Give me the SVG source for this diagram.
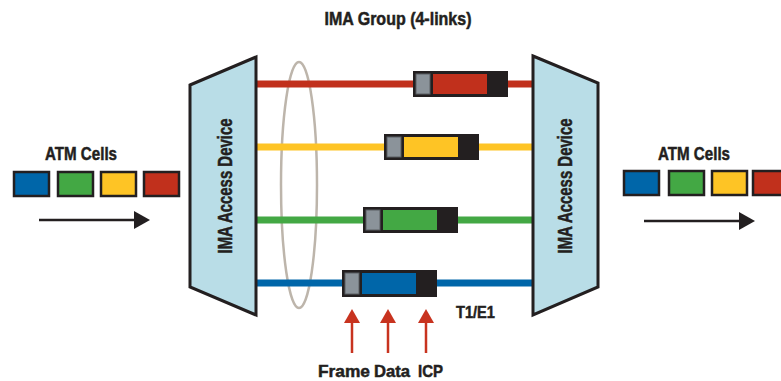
<svg xmlns="http://www.w3.org/2000/svg" width="781" height="381" viewBox="0 0 781 381">
  <style>
    .lbl { font-family: "Liberation Sans", Arial, sans-serif; font-weight: bold; fill: #231f20; stroke: #231f20; stroke-width: 0.5; }
    .dev { fill: #b9dde7; stroke: #231f20; stroke-width: 3; stroke-linejoin: miter; }
    .cell { stroke: #231f20; stroke-width: 2.5; }
    .link { stroke-width: 7; fill: none; }
    .blue { fill: #0066a9; }
    .green { fill: #43a844; }
    .yellow { fill: #fec425; }
    .red { fill: #c1301c; }
    .frm { fill: #231f20; }
    .hdr { fill: #8b939a; stroke: #5a5f63; stroke-width: 1; }
    .flow { stroke: #231f20; stroke-width: 2.5; }
    .ptr { stroke: #c8331f; stroke-width: 2.5; }
  </style>
  <defs>
    <marker id="flowHead" viewBox="0 0 16 18" refX="1" refY="9" markerWidth="16" markerHeight="18" markerUnits="userSpaceOnUse" orient="auto">
      <path d="M0,0 L16,9 L0,18 Z" fill="#231f20"/>
    </marker>
    <marker id="ptrHead" viewBox="0 0 16 16" refX="1" refY="8" markerWidth="16" markerHeight="16" markerUnits="userSpaceOnUse" orient="auto">
      <path d="M0,0 L14,8 L0,16 Z" fill="#c8331f"/>
    </marker>
  </defs>

  <text class="lbl" x="398" y="25" font-size="18" text-anchor="middle" textLength="147" lengthAdjust="spacingAndGlyphs">IMA Group (4-links)</text>

  <!-- bundle outline around the four links -->
  <ellipse id="bundle" cx="299" cy="185" rx="18" ry="123" fill="none" stroke="#bdb5ab" stroke-width="2.5"/>

  <!-- connectors: the four T1/E1 links and flow arrows -->
  <g id="connectors">
    <line class="link" x1="256" y1="84" x2="533" y2="84" stroke="#c1301c"/>
    <line class="link" x1="256" y1="147" x2="533" y2="147" stroke="#fec425"/>
    <line class="link" x1="256" y1="220" x2="533" y2="220" stroke="#43a844"/>
    <line class="link" x1="256" y1="283" x2="533" y2="283" stroke="#0066a9"/>
    <line class="flow" x1="39" y1="220" x2="135" y2="220" marker-end="url(#flowHead)"/>
    <line class="flow" x1="644" y1="221" x2="740" y2="221" marker-end="url(#flowHead)"/>
    <line class="ptr" x1="352" y1="353" x2="352" y2="322" marker-end="url(#ptrHead)"/>
    <line class="ptr" x1="388" y1="353" x2="388" y2="322" marker-end="url(#ptrHead)"/>
    <line class="ptr" x1="426" y1="353" x2="426" y2="322" marker-end="url(#ptrHead)"/>
  </g>

  <!-- input cell stream -->
  <g id="cells-in">
    <text class="lbl" x="45" y="160" font-size="18" textLength="72" lengthAdjust="spacingAndGlyphs">ATM Cells</text>
    <rect class="cell blue" x="14" y="172" width="35" height="24"/>
    <rect class="cell green" x="58" y="172" width="35" height="24"/>
    <rect class="cell yellow" x="101" y="172" width="35" height="24"/>
    <rect class="cell red" x="144" y="172" width="35" height="24"/>
  </g>

  <!-- output cell stream -->
  <g id="cells-out">
    <text class="lbl" x="658" y="160" font-size="18" textLength="72" lengthAdjust="spacingAndGlyphs">ATM Cells</text>
    <rect class="cell blue" x="624" y="171" width="35" height="24"/>
    <rect class="cell green" x="669" y="171" width="35" height="24"/>
    <rect class="cell yellow" x="712" y="171" width="35" height="24"/>
    <rect class="cell red" x="753" y="171" width="35" height="24"/>
  </g>

  <g id="device-left">
    <polygon class="dev" points="190,85 256,57 256,315 190,287"/>
    <text class="lbl" font-size="21" text-anchor="middle" transform="translate(232,186) rotate(-90)" textLength="135" lengthAdjust="spacingAndGlyphs">IMA Access Device</text>
  </g>

  <g id="device-right">
    <polygon class="dev" points="533,56 598,83 598,287 533,315"/>
    <text class="lbl" font-size="21" text-anchor="middle" transform="translate(572,186) rotate(-90)" textLength="135" lengthAdjust="spacingAndGlyphs">IMA Access Device</text>
  </g>

  <!-- IMA frames on each link: header, data, ICP -->
  <g id="frame-red">
    <rect class="frm" x="413" y="71" width="95" height="26"/>
    <rect class="hdr" x="416" y="74" width="14" height="20"/>
    <rect class="red" x="433" y="74" width="54" height="20"/>
  </g>
  <g id="frame-yellow">
    <rect class="frm" x="384" y="134" width="95" height="26"/>
    <rect class="hdr" x="387" y="137" width="14" height="20"/>
    <rect class="yellow" x="404" y="137" width="54" height="20"/>
  </g>
  <g id="frame-green">
    <rect class="frm" x="363" y="207" width="95" height="26"/>
    <rect class="hdr" x="366" y="210" width="14" height="20"/>
    <rect class="green" x="383" y="210" width="54" height="20"/>
  </g>
  <g id="frame-blue">
    <rect class="frm" x="342" y="270" width="95" height="27"/>
    <rect class="hdr" x="345" y="273" width="14" height="21"/>
    <rect class="blue" x="362" y="273" width="54" height="21"/>
  </g>

  <g id="labels">
    <text class="lbl" x="456" y="318" font-size="17" textLength="39" lengthAdjust="spacingAndGlyphs">T1/E1</text>
    <text class="lbl" x="318" y="377" font-size="17" textLength="52" lengthAdjust="spacingAndGlyphs">Frame</text>
    <text class="lbl" x="374" y="377" font-size="17" textLength="36" lengthAdjust="spacingAndGlyphs">Data</text>
    <text class="lbl" x="418" y="377" font-size="17" textLength="25" lengthAdjust="spacingAndGlyphs">ICP</text>
  </g>
</svg>
